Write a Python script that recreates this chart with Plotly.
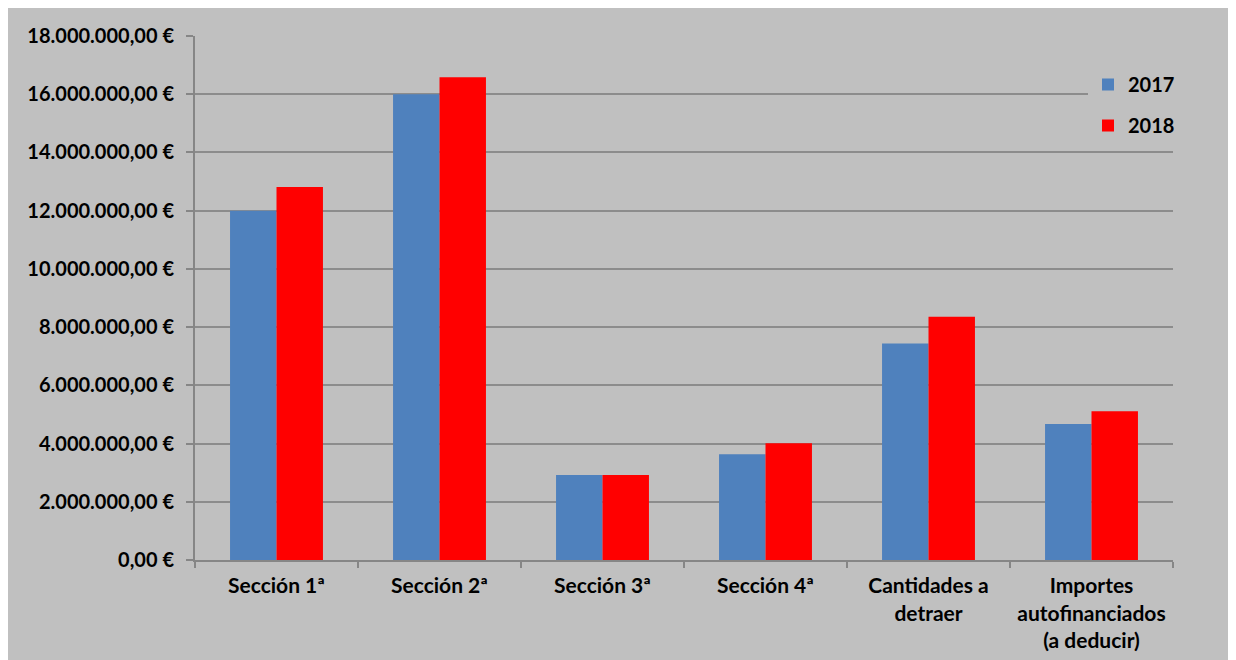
import plotly.graph_objects as go

categories = ["Sección 1ª", "Sección 2ª", "Sección 3ª", "Sección 4ª",
              "Cantidades a<br>detraer", "Importes<br>autofinanciados<br>(a deducir)"]
values_2017 = [12000000, 16000000, 2920000, 3630000, 7440000, 4670000]
values_2018 = [12810000, 16580000, 2920000, 4010000, 8360000, 5110000]
series_names = ["2017", "2018"]

# the page body adds an 8px offset, so the figure is sized to fill the rest
W, H = 1228, 652
ML, MR, MT, MB = 187, 63, 28, 100
BG = "#C0C0C0"
FAM = "Lato, Arial, sans-serif"
YFONT = dict(family=FAM, size=20, color="#000000", weight="bold")
XFONT = dict(family=FAM, size=21, color="#000000", weight="bold")
LFONT = dict(family=FAM, size=20, color="#000000", weight="bold")

fig = go.Figure()
fig.add_trace(go.Bar(x=categories, y=values_2017, name=series_names[0],
                     marker=dict(color="#4F81BD", line=dict(width=0)), legendgroup="a"))
fig.add_trace(go.Bar(x=categories, y=values_2018, name=series_names[1],
                     marker=dict(color="#FF0000", line=dict(width=0)), legendgroup="b"))

pw = W - ML - MR
ph = H - MT - MB
def px2x(p):
    return (p - ML) / pw
def px2y(p):
    return (H - MB - p) / ph

fig.update_layout(
    width=W, height=H,
    margin=dict(l=ML, r=MR, t=MT, b=MB, pad=0),
    paper_bgcolor=BG, plot_bgcolor=BG,
    separators=",.",
    barmode="group", bargap=0.43, bargroupgap=0,
    font=YFONT,
    showlegend=True,
    legend=dict(x=px2x(1080), y=px2y(57), xanchor="left", yanchor="top",
                bgcolor=BG, font=LFONT, traceorder="grouped", tracegroupgap=12,
                itemclick=False),
    xaxis=dict(showline=True, linecolor="#868686", linewidth=2,
               ticks="outside", ticklen=6, tickcolor="#868686", tickwidth=2,
               tickson="boundaries", tickfont=XFONT, showgrid=False,
               ticklabelstandoff=6, automargin=False),
    yaxis=dict(range=[0, 18000000], dtick=2000000, tick0=0,
               tickformat=",.2f", ticksuffix=" €",
               showline=True, linecolor="#868686", linewidth=2,
               ticks="outside", ticklen=7, tickcolor="#868686", tickwidth=2,
               showgrid=True, gridcolor="#8C8C8C", gridwidth=2,
               zeroline=False, tickfont=YFONT, ticklabelstandoff=8,
               automargin=False),
)

fig.write_html("out.html")
